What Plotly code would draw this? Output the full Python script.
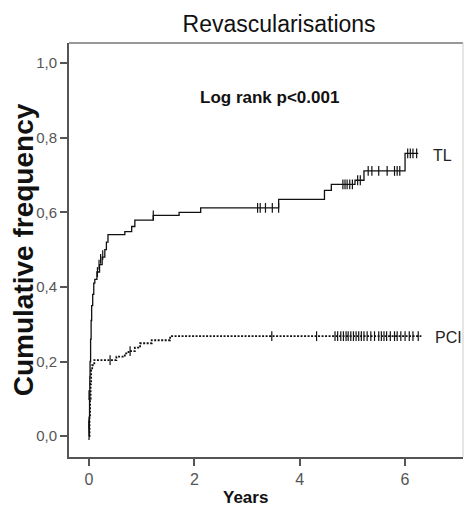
import plotly.graph_objects as go

# TL curve (step function)
tl_t = [0.0, 0.005, 0.01, 0.015, 0.02, 0.03, 0.04, 0.05, 0.07, 0.09, 0.11, 0.15, 0.2, 0.25, 0.3, 0.33, 0.36,
        0.68, 0.81, 0.87, 1.22, 1.71, 2.12, 3.6, 4.47, 4.6, 5.05, 5.22, 6.0, 6.25]
tl_v = [0.0, 0.05, 0.1, 0.16, 0.2, 0.26, 0.31, 0.35, 0.38, 0.41, 0.42, 0.44, 0.46, 0.48, 0.5, 0.52, 0.54,
        0.548, 0.562, 0.579, 0.592, 0.60, 0.612, 0.635, 0.659, 0.675, 0.686, 0.711, 0.758, 0.758]
tl_cens_t = [0.16, 0.19, 0.22, 0.26, 1.22, 3.2, 3.25, 3.35, 3.48, 3.6,
             4.82, 4.86, 4.9, 4.95, 5.0, 5.1, 5.15, 5.3, 5.37, 5.5, 5.66, 5.8, 5.85, 5.9, 6.05, 6.1, 6.15, 6.22]
tl_cens_v = [0.44, 0.46, 0.475, 0.485, 0.592, 0.612, 0.612, 0.612, 0.612, 0.612,
             0.675, 0.675, 0.675, 0.675, 0.675, 0.686, 0.686, 0.711, 0.711, 0.711, 0.711, 0.711, 0.711, 0.711,
             0.758, 0.758, 0.758, 0.758]

# PCI curve (step function)
pci_t = [0.0, 0.01, 0.02, 0.03, 0.04, 0.06, 0.1, 0.52, 0.68, 0.75, 0.87, 0.97, 1.19, 1.54, 6.31]
pci_v = [0.0, 0.05, 0.1, 0.14, 0.177, 0.19, 0.204, 0.213, 0.222, 0.228, 0.237, 0.249, 0.257, 0.268, 0.268]
pci_cens_t = [0.0, 0.0, 0.0, 0.0, 0.4, 0.78, 3.47, 4.32, 4.67, 4.72, 4.78, 4.83, 4.88, 4.92, 4.97, 5.02,
              5.07, 5.12, 5.17, 5.22, 5.28, 5.35, 5.42, 5.5, 5.55, 5.6, 5.65, 5.72, 5.8, 5.85, 5.92, 6.0,
              6.08, 6.15, 6.25]
pci_cens_v = [0.003, 0.027, 0.033, 0.11, 0.204, 0.228] + [0.268] * 29

x_ticks = [0, 2, 4, 6]
y_ticks = [0.0, 0.2, 0.4, 0.6, 0.8, 1.0]

FONT = "Arial, Liberation Sans"
fig = go.Figure()
fig.add_trace(go.Scatter(x=tl_t, y=tl_v, mode="lines", line=dict(shape="hv", color="#111", width=1.3),
                         showlegend=False, hoverinfo="skip"))
fig.add_trace(go.Scatter(x=tl_cens_t, y=tl_cens_v, mode="markers",
                         marker=dict(symbol="line-ns-open", size=7, color="#111", line=dict(color="#111", width=1.2)),
                         showlegend=False))
fig.add_trace(go.Scatter(x=pci_t, y=pci_v, mode="lines", line=dict(shape="hv", color="#111", width=1.8, dash="2px,1.5px"),
                         showlegend=False, hoverinfo="skip"))
fig.add_trace(go.Scatter(x=pci_cens_t, y=pci_cens_v, mode="markers",
                         marker=dict(symbol="line-ns-open", size=7, color="#111", line=dict(color="#111", width=1.2)),
                         showlegend=False))

fig.add_annotation(x=6.49, y=0.753, text="TL", showarrow=False, xanchor="left",
                   font=dict(family=FONT, size=16, color="#222"))
fig.add_annotation(x=6.53, y=0.264, text="PCI", showarrow=False, xanchor="left",
                   font=dict(family=FONT, size=16, color="#222"))
fig.add_annotation(x=3.42, y=0.909, text="<b>Log rank p<0.001</b>", showarrow=False,
                   font=dict(family=FONT, size=17, color="#111"))
fig.add_annotation(x=2.98, xref="x", y=0, yref="paper", yshift=-40, yanchor="middle", text="<b>Years</b>",
                   showarrow=False, font=dict(family=FONT, size=17, color="#111"))

fig.update_layout(
    width=465, height=498,
    margin=dict(l=61, r=10, t=35, b=49),
    plot_bgcolor="white", paper_bgcolor="white",
    separators=",.",
    title=dict(text="Revascularisations", x=0.583, xanchor="center", y=0.968, yanchor="middle",
               font=dict(family=FONT, size=23, color="#111")),
    shapes=[
        dict(type="line", xref="paper", yref="paper", x0=0, x1=1, y0=1, y1=1, line=dict(color="#333", width=1.2)),
        dict(type="line", xref="paper", yref="paper", x0=1, x1=1, y0=0, y1=1, line=dict(color="#ccc", width=1)),
    ],
)
fig.update_xaxes(range=[-0.38, 7.1], tickvals=x_ticks, ticks="outside", ticklen=7, tickwidth=1.5, tickcolor="#555",
                 showline=True, linecolor="#555", linewidth=1.8, showgrid=False, zeroline=False, automargin=False,
                 tickfont=dict(family=FONT, size=16, color="#555"))
fig.update_yaxes(range=[-0.056, 1.054], tickvals=y_ticks, tickformat=".1f", ticks="outside", ticklen=7,
                 tickwidth=1.5, tickcolor="#555",
                 showline=True, linecolor="#555", linewidth=1.8, showgrid=False, zeroline=False, automargin=False,
                 tickfont=dict(family=FONT, size=15, color="#555"),
                 title=dict(text="<b>Cumulative frequency</b>", standoff=4,
                            font=dict(family=FONT, size=28, color="#111")))

fig.write_html("out.html")
